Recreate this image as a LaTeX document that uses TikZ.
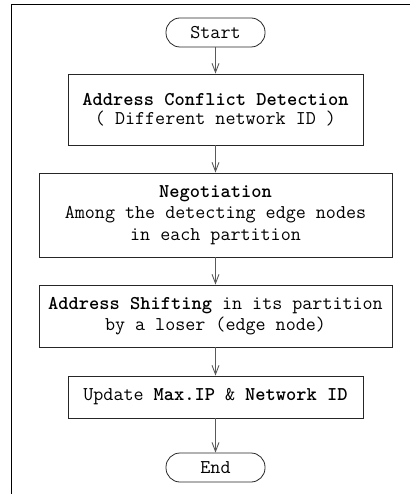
\documentclass[tikz,border=0pt]{standalone}
\usepackage{fontspec}
\usetikzlibrary{arrows.meta}

\begin{document}
\begin{tikzpicture}[x=1pt, y=-1pt,
  every node/.style={font=\ttfamily\fontsize{19.5}{21.5}\selectfont},
  stepbox/.style={draw=black!85, line width=0.9pt, align=center, inner sep=0pt, minimum height=#1},
  terminal/.style={draw=black!85, line width=0.8pt, rounded corners=14pt, minimum width=99pt, minimum height=29pt, inner sep=0pt},
  flow/.style={draw=black!65, line width=0.9pt, -{Straight Barb[length=9pt,width=7pt]}}]
\useasboundingbox (0,0) rectangle (411,494);
\draw[line width=1.1pt] (11.5,494) -- (11.5,4.5) -- (410,4.5);
\node[terminal] (start) at (215.5,32.5) {Start};
\node[stepbox=71pt, minimum width=295pt] (detect) at (215.5,109.5) {\textbf{Address Conflict Detection}\\[-3pt]( Different network ID )};
\node[stepbox=84pt, minimum width=353pt] (negot) at (215.5,215) {\textbf{Negotiation}\\Among the detecting edge nodes\\in each partition};
\node[stepbox=62pt, minimum width=353pt] (shift) at (215.5,316) {\textbf{Address Shifting} in its partition\\by a loser (edge node)};
\node[stepbox=42pt, minimum width=295pt] (update) at (215.5,397) {Update \textbf{Max.IP} \& \textbf{Network ID}};
\node[terminal] (stop) at (215.5,467.5) {End};
\foreach \a/\b in {start/detect, detect/negot, negot/shift, shift/update, update/stop} {\draw[flow] (\a) -- (\b);}
\end{tikzpicture}
\end{document}
